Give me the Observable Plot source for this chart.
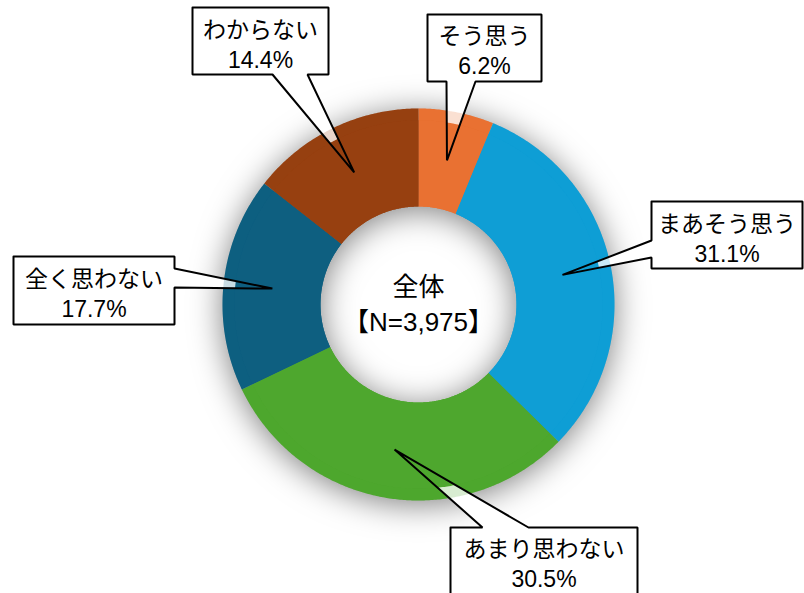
<!DOCTYPE html>
<html>
<head>
<meta charset="utf-8">
<script src="https://cdn.jsdelivr.net/npm/d3@7"></script>
<script src="https://cdn.jsdelivr.net/npm/@observablehq/plot@0.6"></script>
<style>
  html, body { margin: 0; padding: 0; background: #ffffff; }
  #chart { width: 804px; height: 593px; overflow: hidden; }
  .donut-shadow { filter: drop-shadow(0px 4px 16px rgba(0,0,0,0.5)); }
</style>
</head>
<body>
<div id="chart"></div>
<script>
// ---- data ----
const categories = ["そう思う", "まあそう思う", "あまり思わない", "全く思わない", "わからない"];
const values = [6.2, 31.1, 30.5, 17.7, 14.4];
const colors = ["#E97132", "#0F9ED5", "#4EA72E", "#0E5F80", "#974010"];
const centerTitle = "全体";
const sampleLabel = "【N=3,975】";

// ---- layout (pixels) ----
const W = 804, H = 593;
const CX = 418, CY = 304, R = 196, R0 = 98;
// callout boxes: [x0, y0, x1, y1], wedge edge, base span, text centre y
const calloutBoxes = [
  {box: [427, 14, 541, 81], edge: "bottom", base: [446, 475], ty: 49},
  {box: [651, 201, 802, 268], edge: "left", base: [240, 257], ty: 237},
  {box: [450, 527, 637, 600], edge: "top", base: [482, 528], ty: 562},
  {box: [13, 256, 174, 324], edge: "right", base: [268, 287], ty: 292},
  {box: [192, 7, 328, 74], edge: "bottom", base: [272, 307], ty: 43}
];

const ux = px => (px - CX) / R;
const uy = py => (CY - py) / R;

const total = d3.sum(values);
let acc = 0;
const slices = categories.map((c, i) => {
  const a0 = acc / total * 2 * Math.PI;
  acc += values[i];
  const a1 = acc / total * 2 * Math.PI;
  return {cat: c, value: values[i], a0, a1};
});

function ringPolygon(s, rIn, rOut) {
  const pts = [];
  const n = Math.max(4, Math.ceil((s.a1 - s.a0) / (Math.PI / 360)));
  for (let k = 0; k <= n; k++) {
    const a = s.a0 + (s.a1 - s.a0) * k / n;
    pts.push({cat: s.cat, x: rOut * Math.sin(a), y: rOut * Math.cos(a)});
  }
  for (let k = n; k >= 0; k--) {
    const a = s.a0 + (s.a1 - s.a0) * k / n;
    pts.push({cat: s.cat, x: rIn * Math.sin(a), y: rIn * Math.cos(a)});
  }
  pts.push({...pts[0]});
  return pts;
}

const rIn = R0 / R;
const rRim = 0.94;
const donutFull = slices.flatMap(s => ringPolygon(s, rIn, 1));
const donutInner = slices.flatMap(s => ringPolygon(s, rIn, rRim));
const donutRim = slices.flatMap(s => ringPolygon(s, rRim, 1));

// callout shapes: box + wedge to slice midpoint
const rTip = (rIn + 1) / 2;
const callouts = slices.map((s, i) => {
  const L = calloutBoxes[i];
  const [x0, y0, x1, y1] = L.box;
  const am = (s.a0 + s.a1) / 2;
  const tip = {x: rTip * Math.sin(am), y: rTip * Math.cos(am)};
  const P = (px, py) => ({x: ux(px), y: uy(py)});
  const [a, b] = L.base;
  let pts = [P(x0, y0)];
  if (L.edge === "top") pts.push(P(a, y0), tip, P(b, y0));
  pts.push(P(x1, y0));
  if (L.edge === "right") pts.push(P(x1, a), tip, P(x1, b));
  pts.push(P(x1, y1));
  if (L.edge === "bottom") pts.push(P(b, y1), tip, P(a, y1));
  pts.push(P(x0, y1));
  if (L.edge === "left") pts.push(P(x0, b), tip, P(x0, a));
  pts.push(P(x0, y0));
  return {
    cat: s.cat,
    pts: pts.map(p => ({...p, cat: s.cat})),
    cx: ux((x0 + x1) / 2),
    cy: uy(L.ty),
    label: s.cat + "\n" + s.value.toFixed(1) + "%"
  };
});
const calloutPts = callouts.flatMap(c => c.pts);

const font = "'Liberation Sans', Arial, 'Noto Sans CJK JP', sans-serif";

const chart = Plot.plot({
  width: W,
  height: H,
  margin: 0,
  style: {background: "#ffffff", fontFamily: font},
  x: {domain: [-1, 1], range: [CX - R, CX + R], axis: null},
  y: {domain: [-1, 1], range: [CY + R, CY - R], axis: null},
  color: {domain: categories, range: colors},
  marks: [
    Plot.line(donutFull, {x: "x", y: "y", z: "cat", fill: "cat", stroke: "none", className: "donut-shadow"}),
    Plot.line(calloutPts, {x: "x", y: "y", z: "cat", fill: "white", stroke: "none"}),
    Plot.line(donutInner, {x: "x", y: "y", z: "cat", fill: "cat", stroke: "none"}),
    Plot.line(donutRim, {x: "x", y: "y", z: "cat", fill: "cat", fillOpacity: 0.22, stroke: "none"}),
    Plot.line(calloutPts, {x: "x", y: "y", z: "cat", fill: "none", stroke: "#000000", strokeWidth: 2, strokeLinejoin: "miter"}),
    Plot.text(callouts, {x: "cx", y: "cy", text: "label", fontSize: 23, lineHeight: 1.28, fill: "#000000", fontFamily: font}),
    Plot.text([{x: 0, y: 0, t: centerTitle + "\n" + sampleLabel}], {x: "x", y: "y", text: "t", dy: -2, fontSize: 26, lineHeight: 1.34, fill: "#000000", fontFamily: font})
  ]
});

document.getElementById("chart").appendChild(chart);
</script>
</body>
</html>
